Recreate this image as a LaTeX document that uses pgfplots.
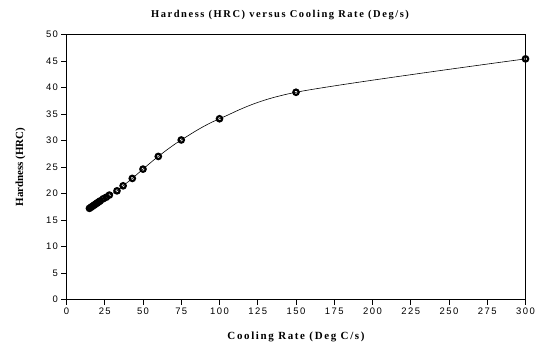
\documentclass[border=0pt]{standalone}
\usepackage{pgfplots}
\pgfplotsset{compat=1.18}
\usepackage{fontspec}
\setmainfont{Liberation Serif}
\setsansfont{Liberation Sans}
\newfontfamily\tickfont[LetterSpace=15]{Liberation Sans}
\newfontfamily\labfont[LetterSpace=15]{Liberation Serif}
\pgfplotstableread{
x y
15 17.2
16 17.4
17 17.6
18 17.8
19 18.0
20 18.2
21 18.4
22 18.6
24 19.0
26 19.3
28 19.7
33 20.5
37 21.45
43 22.85
50 24.6
60 27.0
75 30.1
100 34.1
150 39.1
300 45.4
}\datatable
\begin{document}
\begin{tikzpicture}
\begin{axis}[
  scale only axis,
  width=459bp, height=265bp,
  xmin=0, xmax=300, ymin=0, ymax=50,
  xtick={0,25,...,300}, ytick={0,5,...,50},
  tick align=outside, tick pos=left,
  major tick length=5bp,
  tick style={black, line width=0.6pt},
  axis line style={black, line width=0.8pt},
  tick label style={font=\tickfont\fontsize{9.5}{10}\selectfont},
  /pgf/number format/assume math mode=true,
  clip=false,
]
\addplot[black, line width=0.6pt, smooth, tension=0.5,
  mark=o, mark size=2.7pt,
  mark options={line width=2.2pt, draw=black, fill=white, solid}]
  table[x=x, y=y] {\datatable};
\end{axis}
\node[font=\labfont\bfseries\fontsize{10.5}{12}\selectfont] at ([xshift=-16bp,yshift=19.3bp]current axis.north) {Hardness (HRC) versus Cooling Rate (Deg/s)};
\node[font=\labfont\bfseries\fontsize{11}{12}\selectfont] at ([yshift=-37bp]current axis.south) {Cooling Rate (Deg C/s)};
\node[font=\bfseries\fontsize{11}{12}\selectfont, rotate=90] at ([xshift=-46bp]current axis.west) {Hardness (HRC)};
\pgfresetboundingbox
\path (current axis.south west) ++(-66.5bp,-45.5bp) rectangle ++(539bp,345bp);
\end{tikzpicture}
\end{document}
